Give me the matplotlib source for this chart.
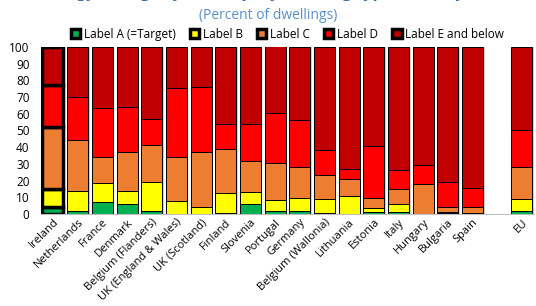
import matplotlib.pyplot as plt
import numpy as np

plt.rcParams['font.family'] = ['Open Sans', 'DejaVu Sans']

countries = ['Ireland', 'Netherlands', 'France', 'Denmark', 'Belgium (Flanders)',
             'UK (England & Wales)', 'UK (Scotland)', 'Finland', 'Slovenia', 'Portugal',
             'Germany', 'Belgium (Wallonia)', 'Lithuania', 'Estonia', 'Italy',
             'Hungary', 'Bulgaria', 'Spain', '', 'EU']

# share of dwellings by label (percent), blank slot before EU
label_a = [4, 2, 7, 6, 2, 0, 0, 0.5, 6, 2, 1.5, 0.5, 0, 1, 1, 0, 0.3, 0, 0, 1.6]
label_b = [11, 11.5, 11.5, 8, 17, 7.6, 4, 12, 7, 6.5, 8, 8.7, 11, 2.5, 5, 0, 1, 0.5, 0, 7.6]
label_c = [37, 31, 15.5, 23, 22, 26.7, 33, 26.5, 19, 22, 18.5, 14, 10, 6, 9, 17.7, 3, 3.5, 0, 18.8]
label_d = [25, 25.5, 29.5, 27, 16, 41.4, 39, 15, 22, 30, 28.5, 15, 6, 31, 11.5, 11.6, 15, 11.5, 0, 22.2]
label_e = [23, 30, 36.5, 36, 43, 24.3, 24, 46, 46, 40, 43.5, 62, 73, 59.5, 73.5, 70.7, 80.7, 84.5, 0, 49.8]

series = [label_a, label_b, label_c, label_d, label_e]
names = ['Label A (=Target)', 'Label B', 'Label C', 'Label D', 'Label E and below']
colors = ['#00b050', '#ffff00', '#ed7d31', '#ff0000', '#c00000']

fig = plt.figure(figsize=(5.36, 3.06), dpi=100)
ax = fig.add_axes([0.0758, 0.3007, 0.921, 0.546])

x = np.arange(len(countries))
mask = x != 18
bottom = np.zeros(len(countries))
for vals, name, col in zip(series, names, colors):
    vals = np.array(vals, dtype=float)
    lw = np.where(x == 0, 2.5, 0.7)[mask]
    ax.bar(x[mask], vals[mask], 0.85, bottom=bottom[mask], color=col,
           edgecolor='black', linewidth=lw, label=name, zorder=3)
    bottom += vals

# light grey shadow to the right of each bar
ax.bar(x[mask] + 0.06, bottom[mask], 0.85, color='#d0d0d0', zorder=2)

ax.set_xlim(-0.5, len(countries) - 0.5)
ax.set_ylim(0, 100)
ax.set_yticks(np.arange(0, 101, 10))
ax.tick_params(axis='y', length=0, labelsize=8.5, pad=8)
ax.tick_params(axis='x', length=0, pad=2)
ax.set_xticks(x)
ax.set_xticklabels(countries, rotation=45, ha='right', rotation_mode='anchor', fontsize=8)
for s in ['top', 'right', 'left']:
    ax.spines[s].set_visible(False)
ax.spines['bottom'].set_color('#bfbfbf')
ax.spines['bottom'].set_zorder(4)

ax.legend(loc='lower center', bbox_to_anchor=(0.5, 1.0), ncol=5, frameon=False,
          fontsize=8.5, handlelength=0.8, handleheight=0.8, handletextpad=0.3,
          columnspacing=1.2, borderaxespad=0.1)

fig.text(0.5, 0.95, '(Percent of dwellings)', ha='center', va='center',
         color='#5b8fc7', fontsize=10)
# main title sits mostly above the top edge, as in the source image
fig.text(0.5, 1.009, 'Energy ratings by country, by building type (latest year)',
         ha='center', va='baseline', color='#2e6da4', fontsize=12, fontweight='bold')

fig.savefig('out.png', dpi=100)
